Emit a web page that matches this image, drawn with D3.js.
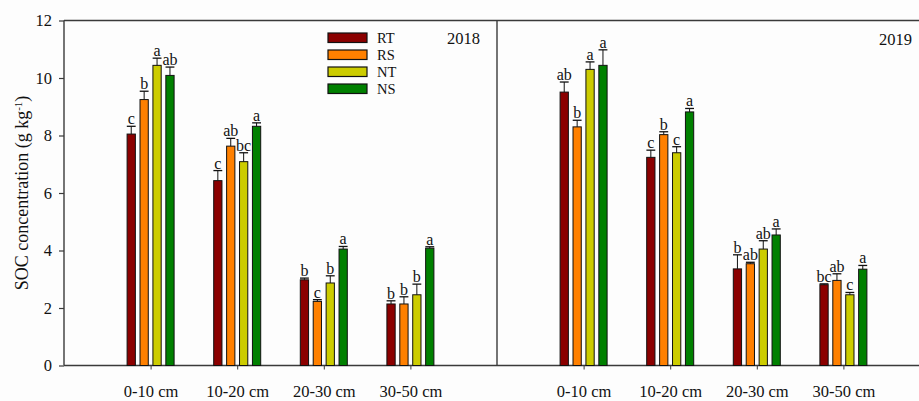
<!DOCTYPE html>
<html>
<head>
<meta charset="utf-8">
<script src="https://cdn.jsdelivr.net/npm/d3@7"></script>
<style>
  html, body { margin: 0; padding: 0; background: #fdfdfd; }
  svg { display: block; }
  text { font-family: "Liberation Serif", "DejaVu Serif", serif; fill: #111; }
</style>
</head>
<body>
<svg id="chart" width="919" height="401"></svg>
<script>
// ---- data ----
const depths = ["0-10 cm", "10-20 cm", "20-30 cm", "30-50 cm"];
const treatments = ["RT", "RS", "NT", "NS"];
const colors = ["#8B0000", "#FF8000", "#CCCC00", "#008000"];
const yTicks = [0, 2, 4, 6, 8, 10, 12];
const years = ["2018", "2019"];

// 2018
const rt2018 = [8.05, 6.43, 2.98, 2.14];
const rs2018 = [9.25, 7.63, 2.23, 2.14];
const nt2018 = [10.44, 7.09, 2.87, 2.46];
const ns2018 = [10.09, 8.32, 4.05, 4.08];
const rt2018Err = [0.27, 0.35, 0.06, 0.11];
const rs2018Err = [0.29, 0.27, 0.06, 0.25];
const nt2018Err = [0.25, 0.31, 0.25, 0.37];
const ns2018Err = [0.29, 0.12, 0.09, 0.05];
const rt2018Sig = ["c", "c", "b", "b"];
const rs2018Sig = ["b", "ab", "c", "b"];
const nt2018Sig = ["a", "bc", "b", "b"];
const ns2018Sig = ["ab", "a", "a", "a"];

// 2019
const rt2019 = [9.51, 7.24, 3.36, 2.81];
const rs2019 = [8.30, 8.03, 3.54, 2.96];
const nt2019 = [10.30, 7.40, 4.05, 2.46];
const ns2019 = [10.44, 8.82, 4.54, 3.35];
const rt2019Err = [0.35, 0.25, 0.49, 0.03];
const rs2019Err = [0.23, 0.10, 0.05, 0.23];
const nt2019Err = [0.26, 0.21, 0.29, 0.08];
const ns2019Err = [0.54, 0.12, 0.21, 0.13];
const rt2019Sig = ["ab", "c", "b", "bc"];
const rs2019Sig = ["b", "b", "ab", "ab"];
const nt2019Sig = ["a", "c", "ab", "c"];
const ns2019Sig = ["a", "a", "a", "a"];

// build tables
function buildRows(vals, errs, sigs) {
  const rows = [];
  depths.forEach((d, i) => {
    treatments.forEach((t, j) => {
      rows.push({ depth: d, trt: t, v: vals[j][i], e: errs[j][i], s: sigs[j][i], c: colors[j] });
    });
  });
  return rows;
}
const rows2018 = buildRows([rt2018, rs2018, nt2018, ns2018],
  [rt2018Err, rs2018Err, nt2018Err, ns2018Err],
  [rt2018Sig, rs2018Sig, nt2018Sig, ns2018Sig]);
const rows2019 = buildRows([rt2019, rs2019, nt2019, ns2019],
  [rt2019Err, rs2019Err, nt2019Err, ns2019Err],
  [rt2019Sig, rs2019Sig, nt2019Sig, ns2019Sig]);

// ---- layout ----
const svg = d3.select("#chart");
const yTop = 20.5, yBottom = 365.5;
const axisColor = "#3a3a3a";
const y = d3.scaleLinear().domain([0, 12]).range([yBottom, yTop]);
const panels = [
  { x0: 64, x1: 497, rows: rows2018, year: years[0], yearX: 480, yearY: 44, yLabels: true },
  { x0: 497, x1: 930, rows: rows2019, year: years[1], yearX: 912, yearY: 45, yLabels: false }
];

// top border
svg.append("line").attr("x1", 64).attr("x2", 919).attr("y1", yTop).attr("y2", yTop)
  .attr("stroke", axisColor).attr("stroke-width", 1.4);

panels.forEach(p => {
  const x = d3.scalePoint().domain(depths).range([p.x0, p.x1]).padding(1);
  const inner = d3.scaleBand().domain(treatments).range([-23.5, 23.5]).paddingInner(0.36).paddingOuter(0);
  const g = svg.append("g");

  // y axis
  const yAxis = p.yLabels ? d3.axisLeft(y).tickValues(yTicks).tickSize(5).tickPadding(7)
                          : d3.axisLeft(y).tickValues([]).tickSize(0);
  const ya = g.append("g").attr("transform", `translate(${p.x0},0)`).call(yAxis);
  ya.select(".domain").attr("d", `M0,${yTop}V${yBottom}`).attr("stroke", axisColor).attr("stroke-width", 1.4);
  ya.selectAll(".tick line").attr("stroke", axisColor).attr("stroke-width", 1.2);
  ya.selectAll(".tick text").attr("font-size", "16.5px").attr("fill", "#111");

  // x axis
  const xa = g.append("g").attr("transform", `translate(0,${yBottom})`)
    .call(d3.axisBottom(x).tickSize(4).tickPadding(15.5).tickSizeOuter(0));
  xa.select(".domain").attr("d", `M${p.x0},0H${Math.min(p.x1, 919)}`).attr("stroke", axisColor).attr("stroke-width", 1.4);
  xa.selectAll(".tick line").attr("stroke", axisColor).attr("stroke-width", 1);
  xa.selectAll(".tick text").attr("font-size", "16.5px").attr("fill", "#111");

  // bars
  const bx = d => x(d.depth) + inner(d.trt);
  const bw = inner.bandwidth();
  g.selectAll("rect.bar").data(p.rows).join("rect").attr("class", "bar")
    .attr("x", bx).attr("width", bw)
    .attr("y", d => y(d.v)).attr("height", d => y(0) - y(d.v))
    .attr("fill", d => d.c).attr("stroke", "#111").attr("stroke-width", 1);

  // error bars (upper only)
  g.selectAll("line.err").data(p.rows).join("line").attr("class", "err")
    .attr("x1", d => bx(d) + bw / 2).attr("x2", d => bx(d) + bw / 2)
    .attr("y1", d => y(d.v)).attr("y2", d => y(d.v + d.e))
    .attr("stroke", "#111").attr("stroke-width", 1);
  g.selectAll("line.cap").data(p.rows).join("line").attr("class", "cap")
    .attr("x1", d => bx(d) - 0.3).attr("x2", d => bx(d) + bw + 0.3)
    .attr("y1", d => y(d.v + d.e)).attr("y2", d => y(d.v + d.e))
    .attr("stroke", "#111").attr("stroke-width", 1.3);

  // significance letters
  g.selectAll("text.sig").data(p.rows).join("text").attr("class", "sig")
    .attr("x", d => bx(d) + bw / 2).attr("y", d => y(d.v + d.e) - 2)
    .attr("text-anchor", "middle").attr("font-size", "16px")
    .text(d => d.s);

  // year label
  g.append("text").attr("x", p.yearX).attr("y", p.yearY).attr("text-anchor", "end")
    .attr("font-size", "16.5px").text(p.year);
});

// legend
const legend = svg.append("g");
treatments.forEach((t, i) => {
  const yy = 33 + i * 17;
  legend.append("rect").attr("x", 328).attr("y", yy).attr("width", 39).attr("height", 9.5)
    .attr("fill", colors[i]).attr("stroke", "#111").attr("stroke-width", 1.2);
  legend.append("text").attr("x", 377).attr("y", yy + 10).attr("font-size", "14.5px").text(t);
});

// y axis title
const title = svg.append("text")
  .attr("transform", "translate(28,193) rotate(-90)")
  .attr("text-anchor", "middle").attr("font-size", "18px");
title.append("tspan").text("SOC concentration (g kg");
title.append("tspan").attr("baseline-shift", "super").attr("font-size", "11px").text("-1");
title.append("tspan").text(")");
</script>
</body>
</html>
